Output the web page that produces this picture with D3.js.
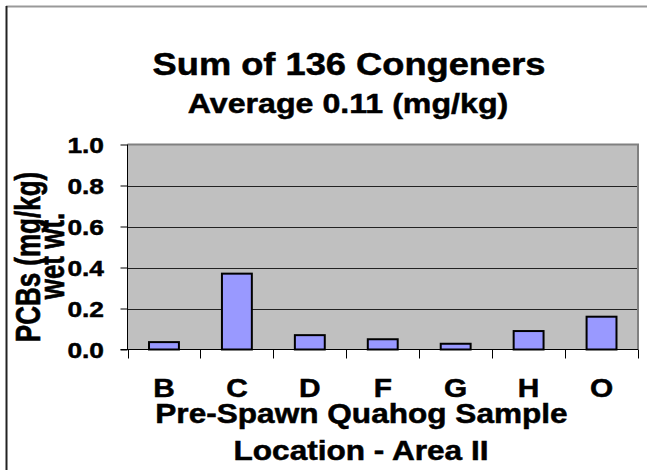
<!DOCTYPE html>
<html>
<head>
<meta charset="utf-8">
<script src="https://cdn.jsdelivr.net/npm/d3@7"></script>
<style>
  body { margin: 0; background: #fff; }
  text { font-family: "Liberation Sans", Arial, sans-serif; font-weight: bold; fill: #000; stroke: #000; stroke-width: 0.5px; }
</style>
</head>
<body>
<div id="chart"></div>
<script>
//Data
var locations = ["B", "C", "D", "F", "G", "H", "O"];
var pcbValues = [0.036, 0.37, 0.07, 0.05, 0.028, 0.09, 0.16];
var yTicks = [0.0, 0.2, 0.4, 0.6, 0.8, 1.0];

var titleText = "Sum of 136 Congeners";
var subtitleText = "Average 0.11 (mg/kg)";
var yTitleLines = ["PCBs (mg/kg)", "wet wt."];
var xTitleLines = ["Pre-Spawn Quahog Sample", "Location - Area II"];

//Width and height
var w = 647;
var h = 470;
var plot = { left: 127.5, top: 144.5, right: 638, bottom: 349.5 };
var sx = 1.17; // the original picture is stretched sideways a bit

var svg = d3.select("#chart")
			.append("svg")
			.attr("width", w)
			.attr("height", h);

var xScale = d3.scaleBand()
			.domain(locations)
			.range([plot.left, plot.right])
			.paddingInner(0.59)
			.paddingOuter(0.295);

var xBounds = d3.scaleBand()
			.domain(locations)
			.range([plot.left, plot.right]);

var yScale = d3.scaleLinear()
			.domain([0, 1])
			.range([plot.bottom, plot.top]);

//stretched text helper
function label(x, y, str, size, anchor, rot, stretch) {
	return svg.append("text")
		.attr("transform", "translate(" + x + "," + y + ") scale(" + (stretch || sx) + ",1)" + (rot ? " rotate(" + rot + ")" : ""))
		.attr("text-anchor", anchor)
		.attr("font-size", size + "px")
		.text(str);
}

//outer frame
svg.append("line").attr("x1", 6).attr("x2", w).attr("y1", 6.5).attr("y2", 6.5)
   .attr("stroke", "#999").attr("stroke-width", 2);
svg.append("line").attr("x1", 6.5).attr("x2", 6.5).attr("y1", 6).attr("y2", h)
   .attr("stroke", "#222").attr("stroke-width", 2);

//plot background
svg.append("rect")
   .attr("x", plot.left)
   .attr("y", plot.top)
   .attr("width", plot.right - plot.left)
   .attr("height", plot.bottom - plot.top)
   .attr("fill", "#c0c0c0");

//grid lines
svg.selectAll("line.grid")
   .data(yTicks.filter(function(d) { return d > 0 && d < 1; }))
   .enter()
   .append("line")
   .attr("class", "grid")
   .attr("x1", plot.left)
   .attr("x2", plot.right)
   .attr("y1", function(d) { return Math.round(yScale(d)) + 0.5; })
   .attr("y2", function(d) { return Math.round(yScale(d)) + 0.5; })
   .attr("stroke", "#222")
   .attr("stroke-width", 1);

//top and right border of the plot
svg.append("path")
   .attr("d", "M" + plot.left + "," + plot.top + "H" + plot.right + "V" + plot.bottom)
   .attr("fill", "none")
   .attr("stroke", "#808080")
   .attr("stroke-width", 2);

//bars
svg.selectAll("rect.bar")
   .data(pcbValues)
   .enter()
   .append("rect")
   .attr("class", "bar")
   .attr("x", function(d, i) { return xScale(locations[i]); })
   .attr("y", function(d) { return yScale(d); })
   .attr("width", xScale.bandwidth())
   .attr("height", function(d) { return yScale(0) - yScale(d); })
   .attr("fill", "#9999ff")
   .attr("stroke", "#000")
   .attr("stroke-width", 2);

//y axis
var yAxis = d3.axisLeft(yScale).tickValues(yTicks).tickSize(7).tickFormat("");
svg.append("g")
   .attr("transform", "translate(" + plot.left + ",0)")
   .call(yAxis)
   .call(function(g) { g.selectAll("path, line").attr("stroke", "#000"); g.select(".domain").attr("d", "M0," + plot.top + "V" + plot.bottom); });

//x axis with ticks on the category boundaries
svg.append("line")
   .attr("x1", plot.left - 7).attr("x2", plot.right)
   .attr("y1", plot.bottom).attr("y2", plot.bottom)
   .attr("stroke", "#000");
svg.selectAll("line.xtick")
   .data(locations.concat(["end"]))
   .enter()
   .append("line")
   .attr("class", "xtick")
   .attr("x1", function(d, i) { return Math.round(plot.left + i * xBounds.bandwidth()) + 0.5; })
   .attr("x2", function(d, i) { return Math.round(plot.left + i * xBounds.bandwidth()) + 0.5; })
   .attr("y1", plot.bottom)
   .attr("y2", plot.bottom + 9)
   .attr("stroke", "#000");

//tick labels
yTicks.forEach(function(d) {
	label(104, yScale(d) + 8, d3.format(".1f")(d), 22.5, "end");
});
locations.forEach(function(d) {
	label(xScale(d) + xScale.bandwidth() / 2, 396.5, d, 25.5, "middle");
});

//titles
label(349, 75, titleText, 31, "middle");
label(348, 113, subtitleText, 27.5, "middle");
label(361.5, 422.5, xTitleLines[0], 27, "middle");
label(361, 460, xTitleLines[1], 27, "middle");
label(40, 257, yTitleLines[0], 26, "middle", -90, 1.32);
label(63.5, 256, yTitleLines[1], 26, "middle", -90, 1.32);
</script>
</body>
</html>
